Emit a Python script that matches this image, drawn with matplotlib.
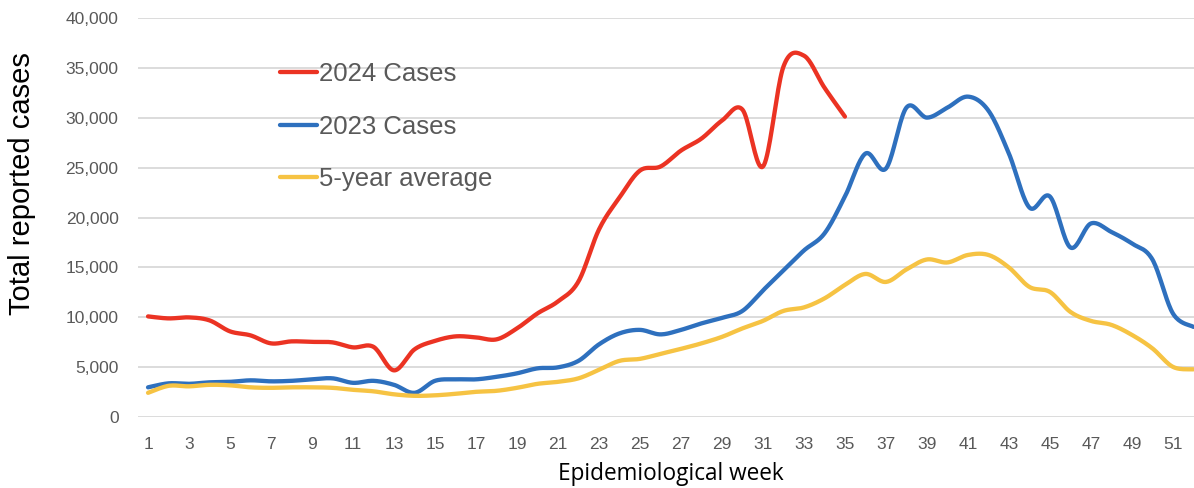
import numpy as np
import matplotlib.pyplot as plt

plt.rcParams['font.family'] = ['Liberation Sans', 'DejaVu Sans']

weeks = np.arange(1, 53)

cases_2024 = [10100, 9900, 10000, 9700, 8600, 8200, 7400, 7600, 7550, 7500,
              7000, 7050, 4700, 6800, 7650, 8100, 8000, 7800, 8900, 10400,
              11600, 13600, 18800, 22000, 24700, 25100, 26700, 27900, 29700, 30800,
              25100, 35100, 36200, 33000, 30100]

cases_2023 = [3000, 3400, 3350, 3500, 3550, 3700, 3600, 3650, 3800, 3900,
              3450, 3650, 3250, 2450, 3650, 3800, 3800, 4050, 4400, 4900,
              5000, 5650, 7300, 8400, 8750, 8300, 8750, 9400, 9950, 10650,
              12700, 14700, 16700, 18400, 22100, 26400, 24900, 31000, 30000, 31000,
              32100, 30700, 26400, 21000, 22100, 17000, 19400, 18550, 17400, 15800,
              10400, 9050]

avg_5yr = [2450, 3150, 3100, 3250, 3200, 3000, 2950, 3000, 3000, 2950,
           2750, 2600, 2300, 2150, 2200, 2350, 2550, 2650, 2950, 3350,
           3550, 3900, 4750, 5650, 5850, 6350, 6850, 7400, 8050, 8900,
           9650, 10650, 11000, 11900, 13250, 14350, 13550, 14800, 15800, 15500,
           16250, 16250, 15000, 13050, 12550, 10550, 9650, 9250, 8250, 6900,
           5050, 4800]

series = [('2024 Cases', cases_2024, '#EB3323'),
          ('2023 Cases', cases_2023, '#2E70BE'),
          ('5-year average', avg_5yr, '#F6C343')]


def smooth(x, y, n=20):
    # Bezier smoothing like spreadsheet "smoothed line"
    x = np.asarray(x, float)
    y = np.asarray(y, float)
    px = np.concatenate([[x[0]], x, [x[-1]]])
    py = np.concatenate([[y[0]], y, [y[-1]]])
    t = np.linspace(0, 1, n, endpoint=False)
    xs, ys = [], []
    for i in range(1, len(px) - 2):
        p0, p1, p2, p3 = px[i - 1], px[i], px[i + 1], px[i + 2]
        q0, q1, q2, q3 = py[i - 1], py[i], py[i + 1], py[i + 2]
        c1x, c2x = p1 + (p2 - p0) / 6, p2 - (p3 - p1) / 6
        c1y, c2y = q1 + (q2 - q0) / 6, q2 - (q3 - q1) / 6
        b0, b1, b2, b3 = (1 - t) ** 3, 3 * t * (1 - t) ** 2, 3 * t ** 2 * (1 - t), t ** 3
        xs.append(b0 * p1 + b1 * c1x + b2 * c2x + b3 * p2)
        ys.append(b0 * q1 + b1 * c1y + b2 * c2y + b3 * q2)
    xs.append([x[-1]])
    ys.append([y[-1]])
    return np.concatenate(xs), np.concatenate(ys)


fig = plt.figure(figsize=(11.94, 4.88), dpi=100)
ax = fig.add_axes([138 / 1194, 70.7 / 488, 1056 / 1194, 399.6 / 488])

for label, vals, color in series:
    sx, sy = smooth(weeks[:len(vals)], vals)
    ax.plot(sx, sy, color=color, linewidth=3.1, label=label,
            solid_capstyle='round', zorder=3)

ax.set_xlim(0.51, 52.03)
ax.set_ylim(0, 40000)
ax.set_yticks(np.arange(0, 40001, 5000))
ax.set_yticklabels([f'{v:,}' for v in range(0, 40001, 5000)])
ax.set_xticks(np.arange(1, 52, 2))

ax.grid(axis='y', color='#d9d9d9', linewidth=1.3, zorder=0)
ax.set_axisbelow(True)
for s in ax.spines.values():
    s.set_visible(False)
ax.tick_params(axis='both', length=0, labelsize=12.5, labelcolor='#595959')
ax.tick_params(axis='y', pad=14)
ax.tick_params(axis='x', pad=14)

# axis titles placed like the original (y title sits above centre)
fig.text(22 / 1194, 1 - 184 / 488, 'Total reported cases', rotation=90,
         fontsize=21, color='black', ha='center', va='center')
fig.text(671 / 1194, 1 - 474 / 488, 'Epidemiological week',
         family=['Open Sans', 'DejaVu Sans'], fontsize=16.3, color='black',
         ha='center', va='center')

leg = ax.legend(loc='upper left', bbox_to_anchor=(0.134, 0.889), frameon=False,
                fontsize=18.5, handlelength=1.45, handletextpad=0.1,
                labelspacing=1.11, borderpad=0, borderaxespad=0)
for t in leg.get_texts():
    t.set_color('#595959')

fig.savefig('out.png', dpi=100)
